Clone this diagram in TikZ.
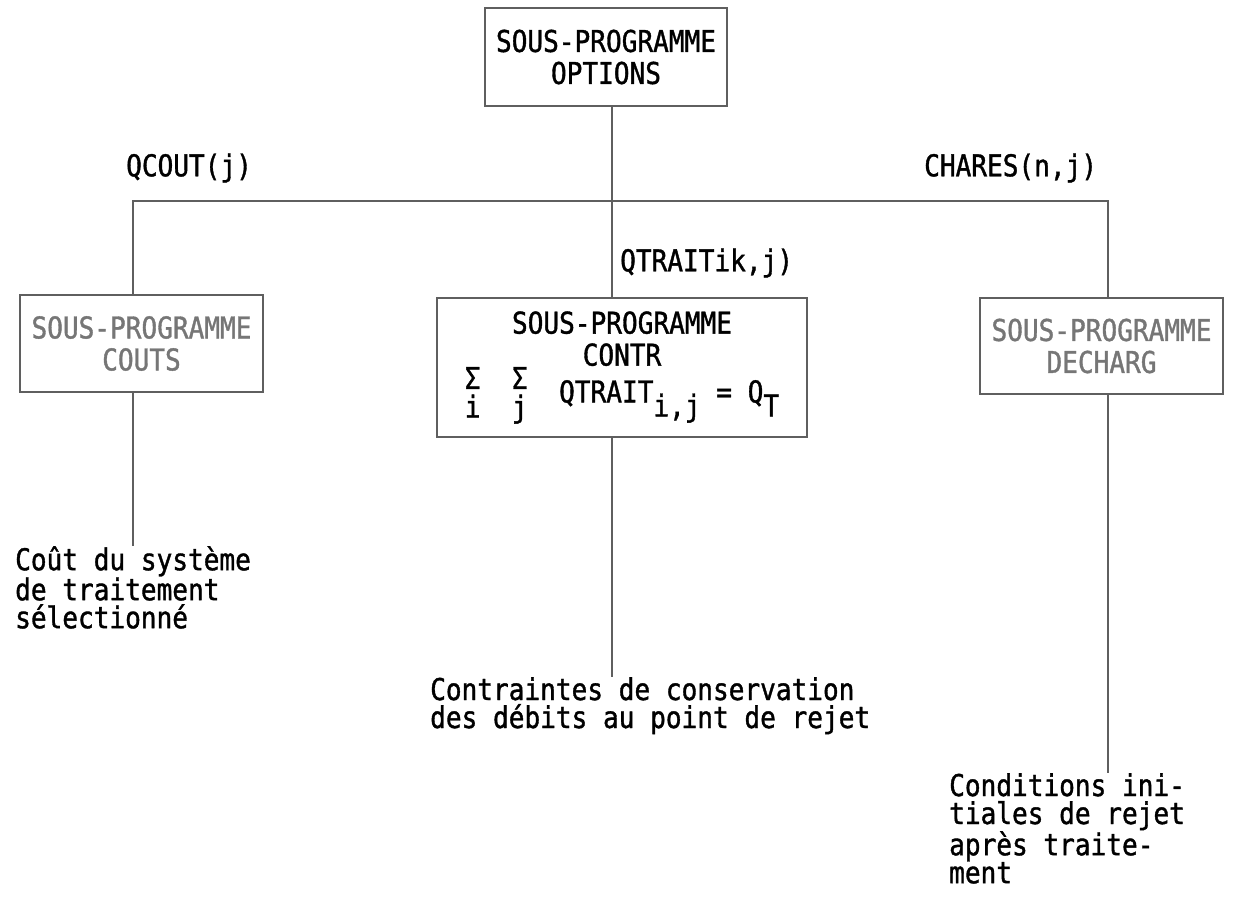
\documentclass[tikz,border=0pt]{standalone}
\usepackage{fontspec}
\setmainfont{DejaVu Sans Mono}[FakeStretch=0.87,FakeBold=1.2]
\definecolor{linegray}{RGB}{95,95,95}
\definecolor{fadegray}{RGB}{118,118,118}
\newcommand{\sumidx}[1]{\ooalign{\raisebox{0.45em}{Σ}\cr\raisebox{-0.5em}{#1}\cr}}
\newcommand{\lowidx}[1]{\raisebox{-0.85ex}{#1}}
\begin{document}
\begin{tikzpicture}[x=1pt,y=-1pt,
  box/.style={draw=linegray,line width=2pt,align=center,inner sep=0pt,
    font=\fontsize{30}{32}\selectfont},
  faded/.style={text=fadegray},
  note/.style={anchor=north west,align=left,inner sep=0pt,
    font=\fontsize{30}{28}\selectfont},
  tag/.style={anchor=west,inner sep=0pt,font=\fontsize{30}{32}\selectfont},
  wire/.style={draw=linegray,line width=2pt}]
\useasboundingbox (0,0) rectangle (1239,897);
\draw (606,57) node[box,minimum width=242,minimum height=98] (opt) {SOUS-PROGRAMME\\OPTIONS};
\draw (141.5,343.5) node[box,faded,minimum width=243,minimum height=97] (couts) {SOUS-PROGRAMME\\COUTS};
\draw (622,367.5) node[box,minimum width=370,minimum height=139] (contr)
  {SOUS-PROGRAMME\\CONTR\\\sumidx{i}\ \ \sumidx{j}\ \ QTRAIT\lowidx{i,j} = Q\lowidx{T}};
\draw (1101.5,346) node[box,faded,minimum width=243,minimum height=96] (decharg) {SOUS-PROGRAMME\\DECHARG};
\draw (126,168) node[tag] (lqcout) {QCOUT(j)};
\draw (924,168) node[tag] (lchares) {CHARES(n,j)};
\draw (620,263) node[tag] (lqtrait) {QTRAITik,j)};
\draw (15,546) node[note] (coutres) {Coût du système\\de traitement\\sélectionné};
\draw (430,677) node[note] (contrres) {Contraintes de conservation\\des débits au point de rejet};
\draw (949,773) node[note] (decres) {Conditions ini-\\tiales de rejet\\après traite-\\ment};
\coordinate (busL) at (133,201);
\coordinate (hub) at (612,201);
\coordinate (busR) at (1108,201);
\draw[wire] (opt.south -| hub) -- (contr.north -| hub);
\draw[wire] (couts.north -| busL) -- (busL) -- (busR) -- (decharg.north -| busR);
\draw[wire] (couts.south -| busL) -- (coutres.north -| busL);
\draw[wire] (contr.south -| hub) -- (contrres.north -| hub);
\draw[wire] (decharg.south -| busR) -- (decres.north -| busR);
\end{tikzpicture}
\end{document}
